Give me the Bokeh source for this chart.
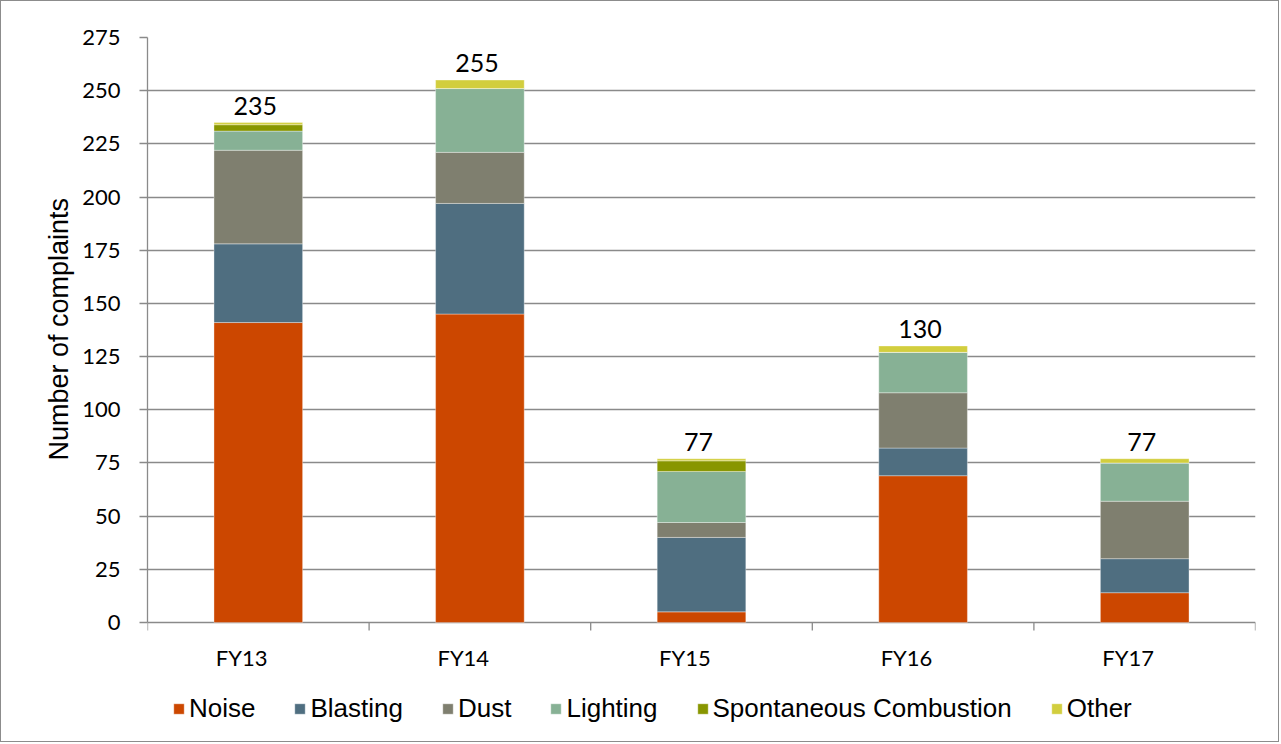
from bokeh.plotting import figure
from bokeh.models import (ColumnDataSource, FixedTicker, Legend, LegendItem, Range1d, Title)
from bokeh.core.properties import value
from bokeh.embed import file_html
from bokeh.resources import INLINE

categories = ["FY13", "FY14", "FY15", "FY16", "FY17"]
noise = [141, 145, 5, 69, 14]
blasting = [37, 52, 35, 13, 16]
dust = [44, 24, 7, 26, 27]
lighting = [9, 30, 24, 19, 18]
spontaneous = [3, 0, 5, 0, 0]
other = [1, 4, 1, 3, 2]
totals = [235, 255, 77, 130, 77]
series_names = ["Noise", "Blasting", "Dust", "Lighting", "Spontaneous Combustion", "Other"]
y_ticks = list(range(0, 276, 25))
y_max = 275
y_title = "Number of complaints"

colors = ["#CC4700", "#4F6E80", "#7F7F6F", "#87B195", "#889600", "#D2CE3E"]
keys = ["noise", "blasting", "dust", "lighting", "spont", "other"]

# layout (pixels)
W, H = 1279, 742
LEFT, RIGHT, TOP = 146, 25, 36
PLOT_H = 585           # pixel height of the 0..275 span
frame_h = H - TOP
units_per_px = y_max / PLOT_H
y_start = y_max - frame_h * units_per_px   # extra room below zero for labels/legend
title_offset = (frame_h - PLOT_H) + 162    # start of the y title, measured up from frame bottom

xs = [i + 0.5 for i in range(len(categories))]
label_shift = 0.075
label_pos = [x - label_shift for x in xs]
boundaries = list(range(len(categories) + 1))

src = ColumnDataSource(dict(x=xs, noise=noise, blasting=blasting, dust=dust,
                            lighting=lighting, spont=spontaneous, other=other,
                            total=totals, label=[str(t) for t in totals]))

p = figure(width=W, height=H, output_backend="svg", toolbar_location=None,
           x_range=Range1d(0, len(categories)), y_range=Range1d(y_start, y_max),
           x_axis_location=None,
           min_border_left=LEFT, min_border_right=RIGHT, min_border_top=TOP,
           min_border_bottom=0)
p.styles = {"border": "1px solid #8c8c8c"}
p.outline_line_color = None
p.background_fill_color = "white"

renderers = p.vbar_stack(keys, x="x", width=0.4, source=src, color=colors,
                         line_color="white", line_alpha=0.35, line_width=1)

p.text(x="x", y="total", text="label", source=src, text_align="center",
       text_baseline="bottom", y_offset=-8, x_offset=-3, text_font=value("Lato"),
       text_font_size="25px", text_color="black")

# category axis drawn through the data scales: boundary ticks + labels
p.segment(x0=boundaries, y0=[0] * len(boundaries), x1=boundaries,
          y1=[-8 * units_per_px] * len(boundaries), line_color="#8a8a8a", line_width=1.3)
p.text(x=label_pos, y=[0] * len(categories), text=categories, text_align="center",
       text_baseline="top", y_offset=21, text_font=value("Lato"),
       text_font_size="22px", text_color="black")

# grid
p.xgrid.visible = False
p.ygrid.ticker = FixedTicker(ticks=y_ticks)
p.ygrid.grid_line_color = "#8a8a8a"
p.ygrid.grid_line_width = 1.3

# y axis
p.yaxis.ticker = FixedTicker(ticks=y_ticks)
p.yaxis.bounds = (0, y_max)
p.yaxis.axis_line_color = "#8a8a8a"
p.yaxis.axis_line_width = 1.3
p.yaxis.major_tick_line_color = "#8a8a8a"
p.yaxis.major_tick_line_width = 1.3
p.yaxis.major_tick_out = 8
p.yaxis.major_tick_in = 0
p.yaxis.minor_tick_line_color = None
p.yaxis.major_label_text_font = "Lato"
p.yaxis.major_label_text_font_size = "22px"
p.yaxis.major_label_text_color = "black"
p.yaxis.major_label_standoff = 19

p.add_layout(Title(text=y_title, align="left", offset=title_offset,
                   text_font="Liberation Sans", text_font_size="27px",
                   text_font_style="normal", text_color="black", standoff=12), "left")

items = [LegendItem(label=n, renderers=[r]) for n, r in zip(series_names, renderers)]
legend = Legend(items=items, orientation="horizontal", location=(25, 19),
                label_text_font="Liberation Sans", label_text_font_size="26px",
                label_text_color="black", glyph_width=13, glyph_height=13,
                label_standoff=4, spacing=38, padding=0, margin=0,
                border_line_color=None, background_fill_alpha=0)
p.add_layout(legend, "center")

open("out.html", "w").write(file_html(p, INLINE))
